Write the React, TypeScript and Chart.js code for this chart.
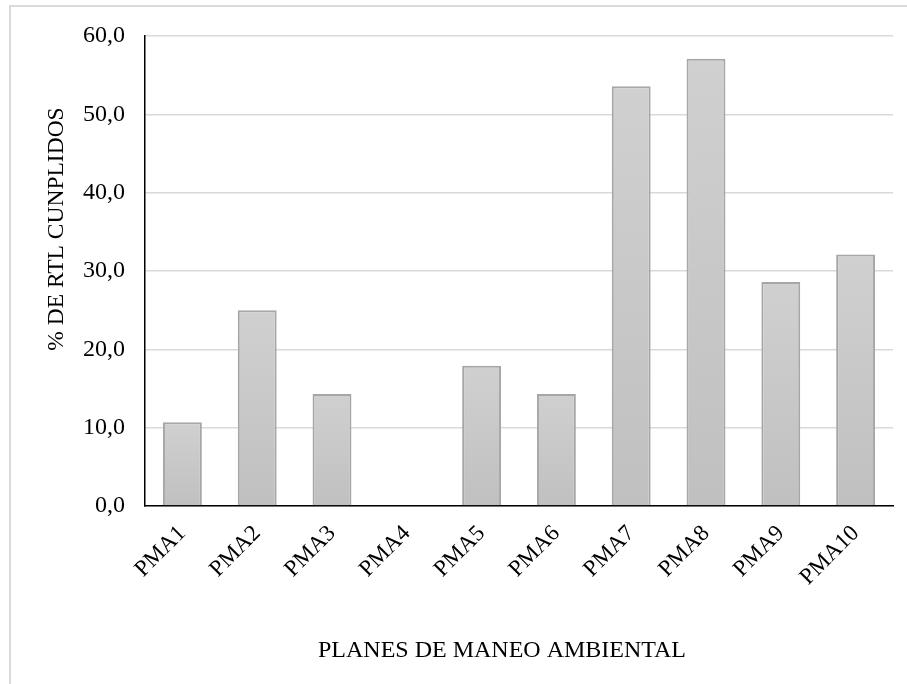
import React, { useEffect, useRef } from "react";
import { Chart, registerables } from "chart.js";

Chart.register(...registerables);

// Planes de manejo ambiental y porcentaje de RTL cumplidos
const categories = ["PMA1", "PMA2", "PMA3", "PMA4", "PMA5", "PMA6", "PMA7", "PMA8", "PMA9", "PMA10"];
const percentValues = [10.7, 25.0, 14.3, 0.0, 17.9, 14.3, 53.6, 57.1, 28.6, 32.1];
const yTicks = [0, 10, 20, 30, 40, 50, 60];

const xTitle = "PLANES DE MANEO AMBIENTAL";
const yTitle = "% DE RTL CUNPLIDOS";

const SERIF = "'Liberation Serif', 'Times New Roman', serif";

// Axis captions placed like the original spreadsheet layout
const captionPlugin = {
  id: "axisCaptions",
  afterDraw(chart: any) {
    const { ctx } = chart;
    ctx.save();
    ctx.fillStyle = "#000";
    ctx.font = `24px ${SERIF}`;
    ctx.textAlign = "center";
    ctx.textBaseline = "alphabetic";
    ctx.fillText(xTitle, 502, 657);
    ctx.translate(63, 229);
    ctx.rotate(-Math.PI / 2);
    ctx.font = `23.5px ${SERIF}`;
    ctx.fillText(yTitle, 0, 0);
    ctx.restore();
  },
};

function barFill(context: any) {
  const chart = context.chart;
  const yScale = chart.scales?.y;
  if (!chart.chartArea || !yScale || context.raw == null) return "#c9c9c9";
  const top = yScale.getPixelForValue(context.raw);
  const base = yScale.getPixelForValue(0);
  if (Math.abs(base - top) < 1) return "#c9c9c9";
  const g = chart.ctx.createLinearGradient(0, top, 0, base);
  g.addColorStop(0, "#d0d0d0");
  g.addColorStop(1, "#c0c0c0");
  return g;
}

export default function App() {
  const canvasRef = useRef<HTMLCanvasElement | null>(null);

  useEffect(() => {
    const canvas = canvasRef.current;
    if (!canvas) return;
    const chart = new Chart(canvas, {
      type: "bar",
      data: {
        labels: categories,
        datasets: [
          {
            data: percentValues,
            backgroundColor: barFill,
            borderColor: "#a6a6a6",
            borderWidth: 2,
            barPercentage: 0.52,
            categoryPercentage: 1,
          },
        ],
      },
      options: {
        responsive: false,
        animation: false,
        layout: { padding: { top: 36, right: 14, left: 0, bottom: 0 } },
        plugins: {
          legend: { display: false },
          tooltip: { enabled: false },
        },
        scales: {
          x: {
            grid: { display: false, drawTicks: false },
            border: { display: true, color: "#000", width: 1.5 },
            ticks: {
              color: "#000",
              font: { family: SERIF, size: 23 },
              minRotation: 45,
              maxRotation: 45,
              padding: 14,
              autoSkip: false,
            },
            afterFit: (scale: any) => {
              scale.height = 178;
            },
          },
          y: {
            min: 0,
            max: 60,
            afterBuildTicks: (scale: any) => {
              scale.ticks = yTicks.map((v) => ({ value: v }));
            },
            grid: { color: "#d9d9d9", lineWidth: 1.5, drawTicks: false },
            border: { display: true, color: "#000", width: 1.5 },
            ticks: {
              color: "#000",
              font: { family: SERIF, size: 24 },
              padding: 20,
              callback: (v: any) => Number(v).toFixed(1).replace(".", ","),
            },
            afterFit: (scale: any) => {
              scale.width = 145;
            },
          },
        },
      },
      plugins: [captionPlugin],
    });
    return () => chart.destroy();
  }, []);

  return (
    <div style={{ position: "fixed", left: 0, top: 0, width: 907, height: 684, background: "#fff", overflow: "hidden" }}>
      <div
        style={{
          position: "absolute",
          left: 9,
          top: 5,
          width: 907 - 9,
          height: 684 - 5,
          borderTop: "2px solid #d9d9d9",
          borderLeft: "2px solid #d9d9d9",
          boxSizing: "border-box",
        }}
      />
      <canvas ref={canvasRef} width={907} height={684} style={{ position: "absolute", left: 0, top: 0 }} />
    </div>
  );
}
